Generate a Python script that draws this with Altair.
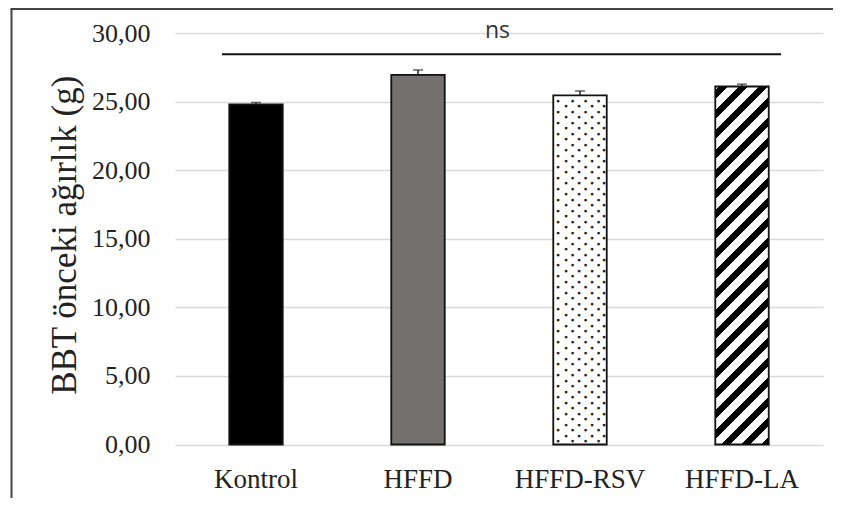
import altair as alt
import pandas as pd

# ---- data ----
groups = ["Kontrol", "HFFD", "HFFD-RSV", "HFFD-LA"]
means = [24.8, 26.95, 25.45, 26.1]
errors = [0.13, 0.35, 0.32, 0.17]
ns_line_y = 28.45
ns_text_y = 29.64
y_ticks = [0, 5, 10, 15, 20, 25, 30]

# ---- layout constants ----
W, H = 648, 411.5
P_IN, P_OUT = 0.67, 0.335
BW = W / (len(groups) - P_IN + 2 * P_OUT) * (1 - P_IN)
PX_PER_UNIT = H / 30.0

df = pd.DataFrame({"grupa": groups, "deger": means, "hata": errors})
df["ust"] = df["deger"] + df["hata"]

x_enc = alt.X("grupa:N", sort=groups,
              scale=alt.Scale(paddingInner=P_IN, paddingOuter=P_OUT),
              axis=alt.Axis(title=None, labelAngle=0, domain=False, ticks=False,
                            labelFont="Liberation Serif", labelFontSize=27,
                            labelColor="#222222", labelPadding=22))
y_scale = alt.Scale(domain=[0, 30], nice=False, zero=True)
y_enc = alt.Y("deger:Q", scale=y_scale,
              axis=alt.Axis(values=y_ticks, title="BBT önceki ağırlık (g)",
                            labelExpr="replace(format(datum.value, '.2f'), '.', ',')",
                            domain=False, ticks=False, grid=True,
                            gridColor="#d9d9d9", gridWidth=1.5,
                            labelFont="Liberation Serif", labelFontSize=26,
                            labelColor="#222222", labelPadding=25,
                            labelBaseline="middle",
                            titleFont="Liberation Serif", titleFontSize=35,
                            titleFontWeight="normal", titleColor="#222222",
                            titleX=-111, titleY=H / 2 - 4, titleAngle=-90,
                            titleAlign="center", titleBaseline="middle"))

base = alt.Chart(df)

solid = base.transform_filter(
    alt.FieldOneOfPredicate(field="grupa", oneOf=["Kontrol", "HFFD", "HFFD-RSV"])
).mark_bar(stroke="#111111", strokeWidth=1.8).encode(
    x=x_enc, y=y_enc,
    fill=alt.Fill("grupa:N",
                  scale=alt.Scale(domain=["Kontrol", "HFFD", "HFFD-RSV"],
                                  range=["#000000", "#767171", "#ffffff"]),
                  legend=None),
)

# diagonal stripe texture for HFFD-LA (hard-stop gradient)
la_h = means[3] * PX_PER_UNIT
span = BW + la_h
period = 20.0
black = 0.45
stops = [alt.GradientStop(offset=0, color="#ffffff")]
c = 4.0
while c < span:
    a = c / span
    b = min((c + black * period) / span, 1.0)
    stops += [alt.GradientStop(offset=a, color="#ffffff"),
              alt.GradientStop(offset=a, color="#000000"),
              alt.GradientStop(offset=b, color="#000000"),
              alt.GradientStop(offset=b, color="#ffffff")]
    c += period
stops.append(alt.GradientStop(offset=1, color="#ffffff"))
s = span / (BW ** 2 + la_h ** 2)
stripes = alt.LinearGradient(gradient="linear", stops=stops,
                             x1=0, y1=0, x2=BW * s, y2=la_h * s)

striped = base.transform_filter(
    alt.FieldEqualPredicate(field="grupa", equal="HFFD-LA")
).mark_bar(stroke="#111111", strokeWidth=1.8, fill=stripes).encode(
    x=alt.X("grupa:N", sort=groups), y=alt.Y("deger:Q"))

# dotted texture for HFFD-RSV: staggered rows, one text layer per column offset
rsv_top = means[2]
even_cols = [-22.0, -7.5, 5.5, 18.5]
odd_cols = [-14.0, -1.0, 12.0, 24.0]
even_rows, odd_rows = [], []
r = 0
yv = 0.25
while yv < rsv_top - 0.15:
    (even_rows if r % 2 == 0 else odd_rows).append(yv)
    yv += 0.4
    r += 1
dot_layers = []
for rows, cols in ((even_rows, even_cols), (odd_rows, odd_cols)):
    ddf = pd.DataFrame({"grupa": ["HFFD-RSV"] * len(rows), "deger": rows})
    for cx in cols:
        dot_layers.append(alt.Chart(ddf).mark_text(
            text="●", font="DejaVu Sans", fontSize=3.6, color="#222222",
            align="center", baseline="middle", dx=cx).encode(
            x=alt.X("grupa:N", sort=groups), y=alt.Y("deger:Q")))

err_rule = base.mark_rule(color="#222222", strokeWidth=1.5).encode(
    x=alt.X("grupa:N", sort=groups), y=alt.Y("deger:Q"), y2="ust:Q")
err_cap = base.mark_tick(color="#222222", thickness=1.5, size=10).encode(
    x=alt.X("grupa:N", sort=groups), y=alt.Y("ust:Q"))

one = pd.DataFrame({"k": [0]})
ns_line = alt.Chart(one).mark_rule(color="#111111", strokeWidth=2).encode(
    x=alt.value(47), x2=alt.value(606), y=alt.datum(ns_line_y, type="quantitative"))
ns_text = alt.Chart(one).mark_text(
    text="ns", font="Open Sans", fontSize=23, color="#333333",
    baseline="alphabetic", align="center").encode(
    x=alt.value(W / 2 - 1.5), y=alt.datum(ns_text_y, type="quantitative"))

frame_left = alt.Chart(one).mark_rule(color="#444444", strokeWidth=2).encode(
    x=alt.value(-163.5), y=alt.value(-24), y2=alt.value(470))
frame_top = alt.Chart(one).mark_rule(color="#444444", strokeWidth=2).encode(
    x=alt.value(-164.5), x2=alt.value(670), y=alt.value(-24))

chart = alt.layer(solid, striped, *dot_layers, err_rule, err_cap, ns_line, ns_text,
                  frame_left, frame_top).properties(
    width=W, height=H,
    autosize=alt.AutoSizeParams(type="none"),
    padding={"left": 167, "top": 25, "right": 10, "bottom": 53},
    background="#ffffff",
).configure_view(stroke=None)

chart.save("out.html", embed_options={"renderer": "svg", "actions": False})
